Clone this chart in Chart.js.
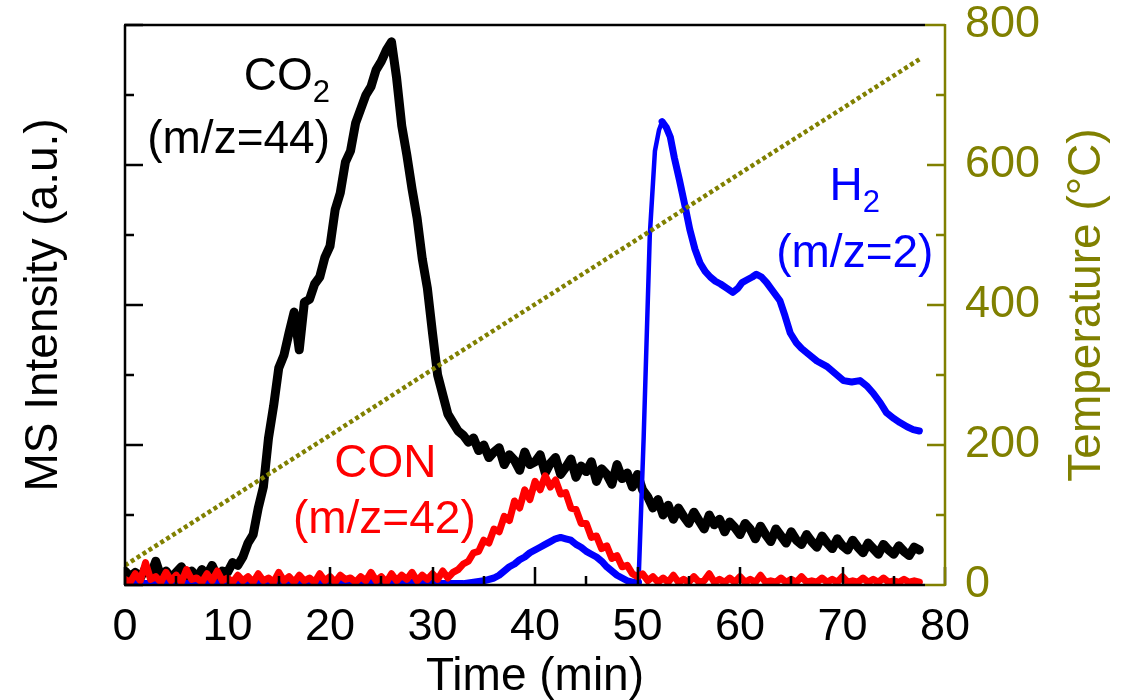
<!DOCTYPE html>
<html><head><meta charset="utf-8">
<script src="https://cdn.jsdelivr.net/npm/chart.js@4.4.1/dist/chart.umd.min.js"></script>
<style>html,body{margin:0;padding:0;background:#fff}#wrap{width:1132px;height:700px}</style>
</head><body><div id="wrap"><canvas id="c" width="1132" height="700"></canvas></div>
<script>
// ---- data ----
const time = [
 0,0.5,1,1.5,2,2.5,3,3.5,4,4.5, 5,5.5,6,6.5,7,7.5,8,8.5,9,9.5,
 10,10.5,11,11.5,12,12.5,13,13.5,14,14.5, 15,15.5,16,16.5,17,17.5,18,18.5,19,19.5,
 20,20.5,21,21.5,22,22.5,23,23.5,24,24.5, 25,25.5,26,26.5,27,27.5,28,28.5,29,29.5,
 30,30.5,31,31.5,32,32.5,33,33.5,34,34.5, 35,35.5,36,36.5,37,37.5,38,38.5,39,39.5,
 40,40.5,41,41.5,42,42.5,43,43.5,44,44.5, 45,45.5,46,46.5,47,47.5,48,48.5,49,49.5,
 50,50.5,51,51.5,52,52.5,53,53.5,54,54.5, 55,55.5,56,56.5,57,57.5,58,58.5,59,59.5,
 60,60.5,61,61.5,62,62.5,63,63.5,64,64.5, 65,65.5,66,66.5,67,67.5,68,68.5,69,69.5,
 70,70.5,71,71.5,72,72.5,73,73.5,74,74.5, 75,75.5,76,76.5,77,77.5];
const co2 = [
 0.10,0.06,0.09,0.05,0.12,0.07,0.17,0.06,0.10,0.05, 0.09,0.13,0.06,0.10,0.05,0.11,0.07,0.14,0.06,0.10,
 0.09,0.16,0.14,0.20,0.30,0.36,0.55,0.70,1.05,1.28, 1.55,1.64,1.80,1.95,1.68,2.02,2.04,2.15,2.20,2.34,
 2.42,2.68,2.80,3.02,3.10,3.30,3.40,3.50,3.56,3.68, 3.74,3.82,3.88,3.62,3.28,3.07,2.83,2.62,2.33,2.12,
 1.80,1.50,1.36,1.22,1.16,1.10,1.07,1.02,1.05,0.96, 1.00,0.91,0.95,0.98,0.86,0.93,0.89,0.82,0.95,0.86,
 0.88,0.93,0.80,0.87,0.91,0.79,0.84,0.90,0.77,0.85, 0.81,0.88,0.74,0.83,0.79,0.72,0.86,0.76,0.80,0.70,
 0.79,0.68,0.63,0.55,0.61,0.50,0.57,0.47,0.55,0.49, 0.44,0.52,0.46,0.40,0.50,0.43,0.47,0.38,0.45,0.41,
 0.36,0.44,0.40,0.33,0.42,0.36,0.31,0.40,0.35,0.30, 0.38,0.32,0.29,0.36,0.31,0.27,0.35,0.30,0.26,0.33,
 0.28,0.25,0.32,0.27,0.23,0.30,0.26,0.22,0.29,0.25, 0.22,0.28,0.24,0.21,0.27,0.25];
const con = [
 0.04,0.02,0.08,0.03,0.16,0.04,0.06,0.02,0.09,0.03, 0.07,0.02,0.11,0.04,0.05,0.02,0.08,0.03,0.10,0.03,
 0.05,0.02,0.07,0.03,0.06,0.02,0.08,0.03,0.05,0.02, 0.09,0.03,0.06,0.02,0.07,0.03,0.05,0.02,0.08,0.03,
 0.06,0.02,0.07,0.04,0.05,0.02,0.06,0.03,0.09,0.03, 0.06,0.02,0.08,0.03,0.07,0.04,0.09,0.03,0.07,0.04,
 0.08,0.04,0.10,0.05,0.09,0.11,0.15,0.17,0.23,0.24, 0.32,0.30,0.40,0.38,0.49,0.46,0.60,0.55,0.68,0.61,
 0.74,0.68,0.78,0.70,0.75,0.65,0.66,0.55,0.54,0.44, 0.44,0.34,0.35,0.26,0.28,0.19,0.21,0.13,0.14,0.08,
 0.06,0.08,0.03,0.06,0.02,0.05,0.02,0.07,0.02,0.04, 0.02,0.06,0.02,0.03,0.08,0.02,0.04,0.02,0.05,0.02,
 0.06,0.02,0.04,0.02,0.07,0.02,0.03,0.02,0.05,0.02, 0.04,0.02,0.06,0.02,0.03,0.02,0.05,0.02,0.04,0.02,
 0.06,0.02,0.03,0.02,0.05,0.02,0.04,0.02,0.05,0.02, 0.03,0.02,0.04,0.02,0.03,0.02];
const h2Time = [0,2,4,6,8,10,12,14,16,18,20,22,24,26,28,30,32,33,34,35,36,36.5,37,37.5,38,38.5,39,39.5,40,40.5,
 41,41.5,42,42.5,43,43.5,44,44.5,45,45.5,46,46.5,47,47.5,48,48.5,49,49.5,50.1,50.6,51.2,51.7,52.1,52.4,52.8,
 53.2,53.6,54.1,54.6,55.1,55.6,56.1,56.6,57.1,57.6,58.1,58.7,59.3,59.8,60.2,60.7,61.2,61.6,62.1,62.6,63.2,
 63.9,64.4,64.9,65.5,66,66.5,67.5,68.5,69.3,70.1,70.9,71.7,72.4,73,73.7,74.3,75,75.6,76.3,76.9,77.5];
const h2 = [0.02,0.01,0.03,0.01,0.02,0.01,0.02,0.01,0.02,0.01,0.02,0.01,0.02,0.01,0.02,0.01,0.01,0.01,0.02,0.03,0.05,0.07,0.10,0.13,0.15,0.18,0.20,0.23,0.25,0.27,
 0.29,0.31,0.33,0.34,0.33,0.32,0.29,0.27,0.24,0.22,0.20,0.17,0.13,0.10,0.07,0.05,0.03,0.02,0.02,1.05,2.50,3.10,3.25,3.31,3.27,
 3.20,3.05,2.89,2.72,2.54,2.40,2.30,2.24,2.20,2.17,2.15,2.12,2.09,2.12,2.16,2.18,2.20,2.22,2.20,2.16,2.10,
 2.03,1.92,1.80,1.73,1.69,1.66,1.60,1.56,1.51,1.46,1.45,1.46,1.42,1.37,1.30,1.23,1.19,1.16,1.13,1.11,1.10];
const tempTime = [0,10,20,30,40,50,60,70,77.5];
const temp = [28,121,214,308,401,494,588,681,751];
const xTicks = [0,10,20,30,40,50,60,70,80];
const xMinorTicks = [5,15,25,35,45,55,65,75];
const msTicks = [0,1,2,3,4];
const msMinorTicks = [0.5,1.5,2.5,3.5];
const tempTicks = [0,200,400,600,800];
const tempMinorTicks = [100,300,500,700];
const seriesLabels = [
 {main:'CO', sub:'2', t:20.0, v:707, align:'right', color:'#000000'},
 {main:'(m/z=44)', t:20.0, v:617, align:'right', color:'#000000'},
 {main:'CON', t:25.4, v:154, align:'center', color:'#ff0000'},
 {main:'(m/z=42)', t:25.3, v:74, align:'center', color:'#ff0000'},
 {main:'H', sub:'2', t:71.2, v:550, align:'center', color:'#0000ff'},
 {main:'(m/z=2)', t:71.2, v:454, align:'center', color:'#0000ff'}
];

const FONT = "'Liberation Sans', Arial, sans-serif";
const OLIVE = '#808000';
const pts = (xs, ys) => xs.map((x, i) => ({x, y: ys[i]}));

const decor = {
  id: 'decor',
  afterDraw(chart) {
    const {ctx, chartArea: a, scales: {x, y, y2}} = chart;
    ctx.save();
    ctx.lineWidth = 2.5;
    ctx.lineCap = 'butt';
    const MAJ = 18, MIN = 9;
    ctx.strokeStyle = '#000';
    ctx.beginPath();
    xTicks.forEach(v => { const p = Math.round(x.getPixelForValue(v)); ctx.moveTo(p, a.bottom); ctx.lineTo(p, a.bottom - MAJ); });
    xMinorTicks.forEach(v => { const p = Math.round(x.getPixelForValue(v)); ctx.moveTo(p, a.bottom); ctx.lineTo(p, a.bottom - MIN); });
    msTicks.forEach(v => { const p = Math.round(y.getPixelForValue(v)); ctx.moveTo(a.left, p); ctx.lineTo(a.left + MAJ, p); });
    msMinorTicks.forEach(v => { const p = Math.round(y.getPixelForValue(v)); ctx.moveTo(a.left, p); ctx.lineTo(a.left + MIN, p); });
    ctx.stroke();
    ctx.beginPath();
    ctx.moveTo(a.left, a.top); ctx.lineTo(a.left, a.bottom);
    ctx.moveTo(a.left - 1, a.bottom); ctx.lineTo(a.right - 20, a.bottom);
    ctx.moveTo(a.left - 1, a.top); ctx.lineTo(a.right - 20, a.top);
    ctx.stroke();
    ctx.strokeStyle = OLIVE;
    ctx.beginPath();
    ctx.moveTo(a.right, a.top - 1); ctx.lineTo(a.right, a.bottom + 1);
    ctx.moveTo(a.right - 20, a.top); ctx.lineTo(a.right, a.top);
    ctx.moveTo(a.right - 20, a.bottom); ctx.lineTo(a.right, a.bottom);
    tempTicks.forEach(v => { const p = Math.round(y2.getPixelForValue(v)); ctx.moveTo(a.right, p); ctx.lineTo(a.right - MAJ, p); });
    tempMinorTicks.forEach(v => { const p = Math.round(y2.getPixelForValue(v)); ctx.moveTo(a.right, p); ctx.lineTo(a.right - MIN, p); });
    ctx.stroke();
    ctx.fillStyle = OLIVE;
    ctx.font = '46px ' + FONT;
    ctx.textAlign = 'center';
    ctx.textBaseline = 'middle';
    ctx.translate(1087, (a.top + a.bottom) / 2);
    ctx.rotate(-Math.PI / 2);
    ctx.fillText('Temperature (\u00B0C)', 0, 0);
    ctx.restore();
    ctx.save();
    ctx.textBaseline = 'alphabetic';
    ctx.textAlign = 'left';
    seriesLabels.forEach(l => {
      const px = x.getPixelForValue(l.t), py = y2.getPixelForValue(l.v);
      ctx.font = '46px ' + FONT;
      const w1 = ctx.measureText(l.main).width;
      let w2 = 0;
      if (l.sub) { ctx.font = '31px ' + FONT; w2 = ctx.measureText(l.sub).width; }
      const total = w1 + w2;
      const start = l.align === 'right' ? px - total : px - total / 2;
      ctx.fillStyle = l.color;
      ctx.font = '46px ' + FONT;
      ctx.fillText(l.main, start, py);
      if (l.sub) { ctx.font = '31px ' + FONT; ctx.fillText(l.sub, start + w1, py + 12); }
    });
    ctx.restore();
  }
};

new Chart(document.getElementById('c'), {
  type: 'line',
  data: {
    datasets: [
      {label: 'Temperature', data: pts(tempTime, temp), yAxisID: 'y2', borderColor: OLIVE, borderWidth: 4.5, borderDash: [4, 3], borderCapStyle: 'butt', borderJoinStyle: 'miter'},
      {label: 'CON (m/z=42)', data: pts(time, con), yAxisID: 'y', borderColor: '#ff0000', borderWidth: 7},
      {label: 'H2 (m/z=2)', data: pts(h2Time, h2), yAxisID: 'y', borderColor: '#0000ff', borderWidth: 6,
        segment: {borderWidth: c => (c.p0.parsed.x >= 50 && c.p1.parsed.x <= 52.5) ? 4.5 : 7}},
      {label: 'CO2 (m/z=44)', data: pts(time, co2), yAxisID: 'y', borderColor: '#000000', borderWidth: 9}
    ]
  },
  options: {
    responsive: false, animation: false, devicePixelRatio: 1,
    layout: {padding: {top: 25, left: 0, right: 0, bottom: 0}, autoPadding: false},
    plugins: {legend: {display: false}, tooltip: {enabled: false}},
    elements: {point: {radius: 0}, line: {tension: 0, borderJoinStyle: 'round', borderCapStyle: 'round'}},
    scales: {
      x: {type: 'linear', position: 'bottom', min: 0, max: 80,
        grid: {display: false, drawTicks: false}, border: {display: false},
        afterBuildTicks: s => { s.ticks = xTicks.map(v => ({value: v})); },
        afterFit: s => { s.height = 115; s.paddingLeft = 0; s.paddingRight = 0; },
        ticks: {color: '#000', font: {family: FONT, size: 45}, padding: 16, maxRotation: 0, autoSkip: false},
        title: {display: true, text: 'Time (min)', color: '#000', font: {family: FONT, size: 46}, padding: {top: 0, bottom: -5}}},
      y: {type: 'linear', position: 'left', min: 0, max: 4,
        grid: {display: false, drawTicks: false}, border: {display: false},
        ticks: {display: false},
        afterFit: s => { s.width = 125; s.paddingTop = 0; s.paddingBottom = 0; },
        title: {display: true, text: 'MS Intensity (a.u.)', color: '#000', font: {family: FONT, size: 46}, padding: {top: 17, bottom: 0}}},
      y2: {type: 'linear', position: 'right', min: 0, max: 800,
        grid: {display: false, drawTicks: false}, border: {display: false},
        afterBuildTicks: s => { s.ticks = tempTicks.map(v => ({value: v})); },
        afterFit: s => { s.width = 187; s.paddingTop = 0; s.paddingBottom = 0; },
        ticks: {color: OLIVE, font: {family: FONT, size: 45}, padding: 20}}
    }
  },
  plugins: [decor]
});
</script>
</body></html>
